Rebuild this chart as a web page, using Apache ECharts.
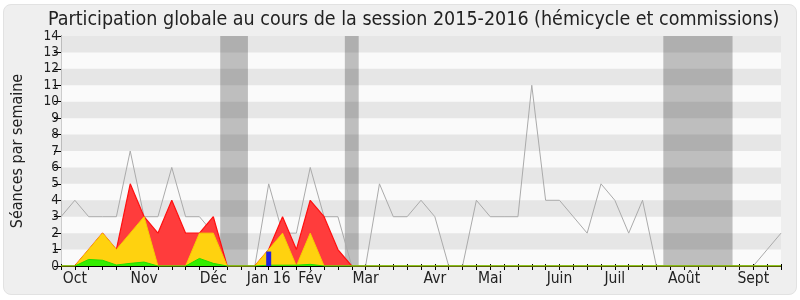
<!DOCTYPE html>
<html><head><meta charset="utf-8">
<script src="https://cdn.jsdelivr.net/npm/echarts@6/dist/echarts.min.js"></script>
<style>
html,body{margin:0;padding:0;background:#fff;}
#panel{position:absolute;left:3px;top:4px;width:792px;height:289px;border:1px solid #e2e2e2;border-radius:8px;background:#efefef;}
#c{position:absolute;left:0;top:0;width:800px;height:300px;}
</style></head><body><div id="panel"></div><div id="c"></div>
<script>
// weekly values, week index 0..52
const weeks = Array.from({length: 53}, (_, i) => i);
const medianSeances = [3,4,3,3,3,7,3,3,6,3,3,2,0,0,0,5,2,2,6,3,3,0,0,5,3,3,4,3,0,0,4,3,3,3,11,4,4,3,2,5,4,2,4,0,0,0,0,0,0,0,0,1,2];
const presences    = [0,0,1,2,1,5,3,2,4,2,2,3,0,0,0,1,3,1,4,3,1,0,0,0,0,0,0,0,0,0,0,0,0,0,0,0,0,0,0,0,0,0,0,0,0,0,0,0,0,0,0,0,0];
const participations=[0,0,1,2,1,2,3,0,0,0,2,2,0,0,0,1,2,0,2,0,0,0,0,0,0,0,0,0,0,0,0,0,0,0,0,0,0,0,0,0,0,0,0,0,0,0,0,0,0,0,0,0,0];
const interventions= [0,0,0.4,0.35,0.06,0.16,0.24,0,0,0,0.46,0.16,0,0,0,0.05,0.05,0.05,0.1,0,0,0,0,0,0,0,0,0,0,0,0,0,0,0,0,0,0,0,0,0,0,0,0,0,0,0,0,0,0,0,0,0,0];
const questionWeeks = [15];
const questionValues = [0.88];
const vacations = [[11.5, 13.5], [20.5, 21.5], [43.5, 48.5]];
const monthLabels = {1:'Oct', 6:'Nov', 11:'Déc', 15:'Jan 16', 18:'Fév', 22:'Mar', 27:'Avr', 31:'Mai', 36:'Juin', 40:'Juil', 45:'Août', 50:'Sept'};
const yTicks = [0,1,2,3,4,5,6,7,8,9,10,11,12,13,14];

const pairs = arr => weeks.map(w => [w, arr[w]]);
const FONT = "'DejaVu Sans Condensed', 'DejaVu Sans', sans-serif";
const stripeRows = yTicks.filter(v => v % 2 === 1).map(v => [{yAxis: v}, {yAxis: v + 1}]);

const chart = echarts.init(document.getElementById('c'), null, {renderer: 'canvas'});
chart.setOption({
  animation: false,
  backgroundColor: 'transparent',
  title: {
    text: 'Participation globale au cours de la session 2015-2016 (hémicycle et commissions)',
    left: 43, top: 5,
    textStyle: {fontFamily: FONT, fontSize: 19.5, fontWeight: 'normal', color: '#222'}
  },
  grid: {left: 61, top: 36, width: 720, height: 230, backgroundColor: '#fafafa', show: true, borderWidth: 0},
  xAxis: [{
    type: 'value', min: 0, max: 52, interval: 1,
    axisLine: {show: true, lineStyle: {color: '#000', width: 1}},
    axisTick: {show: true, length: 4, lineStyle: {color: '#000'}},
    axisLabel: {fontFamily: FONT, fontSize: 15.5, color: '#222', margin: 5,
      formatter: v => monthLabels[v] || ''},
    splitLine: {show: false}
  }, {
    type: 'value', position: 'top', min: 0, max: 52, interval: 1,
    axisLine: {show: false},
    axisTick: {show: true, length: 2, lineStyle: {color: '#000'}},
    axisLabel: {show: false}, splitLine: {show: false}
  }],
  yAxis: [{
    type: 'value', min: 0, max: 14, interval: 1,
    name: 'Séances par semaine', nameLocation: 'middle', nameGap: 35, nameRotate: 90,
    nameTextStyle: {fontFamily: FONT, fontSize: 16, color: '#222'},
    axisLine: {show: true, lineStyle: {color: '#000'}},
    axisTick: {show: true, length: 7, lineStyle: {color: '#000'}},
    axisLabel: {fontFamily: FONT, fontSize: 13.5, color: '#222', margin: 2},
    splitLine: {show: false}
  }, {
    type: 'value', position: 'right', min: 0, max: 14, interval: 1,
    axisLine: {show: true, lineStyle: {color: '#cccccc'}},
    axisTick: {show: false}, axisLabel: {show: false}, splitLine: {show: false}
  }],
  series: [
    {type: 'line', name: 'vacances', data: [], z: 1, silent: true,
      markArea: {silent: true, z: 1, itemStyle: {color: '#bebebe'},
        data: vacations.map(v => [{xAxis: v[0]}, {xAxis: v[1]}])}},
    {type: 'line', name: 'bandes', data: [], z: 1, silent: true,
      markArea: {silent: true, z: 1.5, itemStyle: {color: 'rgba(0,0,0,0.08)'}, data: stripeRows}},
    {type: 'line', name: 'médiane', data: pairs(medianSeances), z: 3, showSymbol: false,
      lineStyle: {color: '#aaaaaa', width: 1}},
    {type: 'line', name: 'présences', data: pairs(presences), z: 4, showSymbol: false,
      lineStyle: {color: '#ff1010', width: 1.2}, areaStyle: {color: '#ff3c3c', opacity: 1}},
    {type: 'line', name: 'participations', data: pairs(participations), z: 5, showSymbol: false,
      lineStyle: {color: '#f5d000', width: 1}, areaStyle: {color: '#ffd20f', opacity: 1}},
    {type: 'line', name: 'interventions', data: pairs(interventions), z: 6, showSymbol: false,
      lineStyle: {color: '#22dd00', width: 1}, areaStyle: {color: '#33ee00', opacity: 1}},
    {type: 'bar', name: 'questions', data: questionWeeks.map((w, i) => [w, questionValues[i]]), z: 7,
      barWidth: 5, itemStyle: {color: '#2222dd'}}
  ]
});
</script></body></html>
